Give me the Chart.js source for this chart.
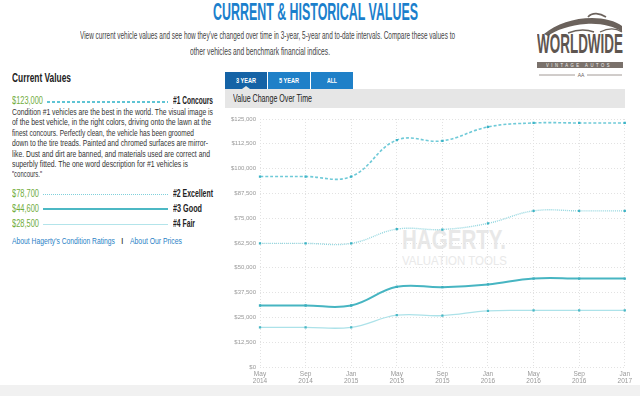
<!DOCTYPE html>
<html>
<head>
<meta charset="utf-8">
<script src="https://cdn.jsdelivr.net/npm/chart.js@4"></script>
<style>
  body { margin: 0; width: 640px; height: 396px; background: #fff; overflow: hidden; position: relative;
         font-family: "Liberation Sans", Arial, sans-serif; color: #333; }
  .abs { position: absolute; white-space: nowrap; }
  .fit { display: inline-block; transform-origin: 0 0; }
  #title { left: 213px; top: -2px; font-size: 24px; font-weight: bold; color: #1b7fcc; }
  .sub { font-size: 11px; color: #444; }
  #logoWord { left: 537px; top: 28px; font-size: 28px; font-weight: bold; color: #5e5550; }
  #logoBar { left: 537px; top: 62px; width: 86px; height: 6px; background: #7a716b; }
  #logoBarText { left: 546px; top: 62px; font-size: 5px; line-height: 6px; color: #f2f2f2; }
  #cvTitle { left: 12px; top: 71px; font-size: 12px; font-weight: bold; color: #222; }
  .price { font-size: 10px; color: #72ad3c; }
  .cond { font-size: 10px; font-weight: bold; color: #222; }
  .para { left: 12px; font-size: 9px; color: #333; }
  .link { font-size: 9px; color: #2a7fc6; }
  .tab { top: 72px; height: 17px; width: 42px; }
  .tabText { top: 76px; font-size: 8px; font-weight: bold; color: #fff; }
  #hdr { left: 225px; top: 89px; width: 400px; height: 19px; background: #e6e6e6; }
  #hdrText { left: 233px; top: 93px; font-size: 10px; color: #222; }
  #wm1 { left: 402px; top: 224px; font-size: 28px; font-weight: bold; color: #e8e8e8; }
  #wm2 { left: 402px; top: 253px; font-size: 13px; color: #e9e9e9; }
  #bottom { left: 0; top: 385px; width: 640px; height: 11px; background: #f1f1f1; }
  #chartBox { left: 225px; top: 108px; width: 410px; height: 282px; }
</style>
</head>
<body>
<div class="abs" id="title"><span class="fit" data-w="205">CURRENT &amp; HISTORICAL VALUES</span></div>
<div class="abs sub" style="left:80px; top:29px;"><span class="fit" data-w="375">View current vehicle values and see how they've changed over time in 3-year, 5-year and to-date intervals. Compare these values to</span></div>
<div class="abs sub" style="left:190px; top:45px;"><span class="fit" data-w="140">other vehicles and benchmark financial indices.</span></div>

<svg class="abs" style="left:530px; top:8px;" width="110" height="75" viewBox="0 0 110 75">
  <path d="M14 26 C 26 16, 44 10, 62 10 C 74 10, 86 13, 92 18 L 92 24 C 84 18, 70 15, 56 16 C 40 17, 26 22, 18 28 Z" fill="#6b625c"/>
  <path d="M58 9 C 62 4, 70 5, 76 9" stroke="#6b625c" stroke-width="1.6" fill="none"/>
  <path d="M38 25 C 48 21, 56 21, 64 24" stroke="#6b625c" stroke-width="1.4" fill="none"/>
  <path d="M70 24 C 78 20, 86 20, 92 24" stroke="#6b625c" stroke-width="1.2" fill="none"/>
  <line x1="9" y1="67" x2="45" y2="67" stroke="#8a817b" stroke-width="0.8"/>
  <line x1="57" y1="67" x2="92" y2="67" stroke="#8a817b" stroke-width="0.8"/>
  <text x="51" y="69" font-size="5" fill="#6b625c" text-anchor="middle" font-family="Liberation Sans">AA</text>
</svg>
<div class="abs" id="logoWord"><span class="fit" data-w="86">WORLDWIDE</span></div>
<div class="abs" id="logoBar"></div>
<div class="abs" id="logoBarText"><span class="fit" data-w="66" style="letter-spacing:3px">VINTAGE AUTOS</span></div>

<div class="abs" id="cvTitle"><span class="fit" data-w="59">Current Values</span></div>

<div class="abs price" style="left:12px; top:95px;"><span class="fit" data-w="31">$123,000</span></div>
<div class="abs" style="left:47px; top:101px; width:121px; height:1.5px; background:repeating-linear-gradient(to right, #5fc4d4 0 3px, transparent 3px 5px);"></div>
<div class="abs cond" style="left:173px; top:95px;"><span class="fit" data-w="40">#1 Concours</span></div>

<div class="abs para" style="top:107px;"><span class="fit" data-w="201">Condition #1 vehicles are the best in the world. The visual image is</span></div>
<div class="abs para" style="top:117.4px;"><span class="fit" data-w="199">of the best vehicle, in the right colors, driving onto the lawn at the</span></div>
<div class="abs para" style="top:127.8px;"><span class="fit" data-w="182">finest concours. Perfectly clean, the vehicle has been groomed</span></div>
<div class="abs para" style="top:138.2px;"><span class="fit" data-w="196">down to the tire treads. Painted and chromed surfaces are mirror-</span></div>
<div class="abs para" style="top:148.6px;"><span class="fit" data-w="198">like. Dust and dirt are banned, and materials used are correct and</span></div>
<div class="abs para" style="top:159px;"><span class="fit" data-w="176">superbly fitted. The one word description for #1 vehicles is</span></div>
<div class="abs para" style="top:169.4px;"><span class="fit" data-w="30">"concours."</span></div>

<div class="abs price" style="left:12px; top:188px;"><span class="fit" data-w="27">$78,700</span></div>
<div class="abs" style="left:43px; top:194px; width:125px; height:1px; background:repeating-linear-gradient(to right, #7fd0db 0 1px, transparent 1px 2px);"></div>
<div class="abs cond" style="left:173px; top:188px;"><span class="fit" data-w="40">#2 Excellent</span></div>

<div class="abs price" style="left:12px; top:203px;"><span class="fit" data-w="27">$44,600</span></div>
<div class="abs" style="left:43px; top:208px; width:125px; height:2px; background:#4cb8c4;"></div>
<div class="abs cond" style="left:173px; top:203px;"><span class="fit" data-w="29">#3 Good</span></div>

<div class="abs price" style="left:12px; top:218px;"><span class="fit" data-w="27">$28,500</span></div>
<div class="abs" style="left:43px; top:224px; width:125px; height:1px; background:#b3e4ea;"></div>
<div class="abs cond" style="left:173px; top:218px;"><span class="fit" data-w="22">#4 Fair</span></div>

<div class="abs link" style="left:12px; top:236px;"><span class="fit" data-w="103">About Hagerty's Condition Ratings</span></div>
<div class="abs" style="left:121px; top:236px; font-size:9px; color:#333;">I</div>
<div class="abs link" style="left:130px; top:236px;"><span class="fit" data-w="52">About Our Prices</span></div>

<div class="abs tab" style="left:225px; background:#1563a6;"></div>
<div class="abs tab" style="left:268px; background:#1f80c8;"></div>
<div class="abs tab" style="left:311px; background:#1f80c8;"></div>
<div class="abs tabText" style="left:236px;"><span class="fit" data-w="20">3 YEAR</span></div>
<div class="abs tabText" style="left:279px;"><span class="fit" data-w="20">5 YEAR</span></div>
<div class="abs tabText" style="left:327px;"><span class="fit" data-w="10">ALL</span></div>
<div class="abs" id="hdr"></div>
<div class="abs" style="left:242px; top:86px; width:0; height:0; border-left:4px solid transparent; border-right:4px solid transparent; border-bottom:3px solid #e6e6e6;"></div>
<div class="abs" id="hdrText"><span class="fit" data-w="79">Value Change Over Time</span></div>

<div class="abs" id="wm1"><span class="fit" data-w="104">HAGERTY.</span></div>
<div class="abs" id="wm2"><span class="fit" data-w="105">VALUATION TOOLS</span></div>

<div class="abs" id="chartBox"><canvas id="chart" width="410" height="282"></canvas></div>
<div class="abs" id="bottom"></div>

<script>
// ==================== Chart data ====================

const dateLabels = [['May', '2014'], ['Sep', '2014'], ['Jan', '2015'], ['May', '2015'], ['Sep', '2015'],
                    ['Jan', '2016'], ['May', '2016'], ['Sep', '2016'], ['Jan', '2017']];

const concoursValues  = [96000, 96000, 96000, 114400, 114000, 121000, 123000, 123000, 123000];
const excellentValues = [62300, 62300, 62300, 69500, 69300, 72400, 78700, 78700, 78700];
const goodValues      = [31000, 31000, 31000, 40400, 40200, 41600, 44600, 44600, 44600];
const fairValues      = [20000, 20000, 20000, 26100, 25900, 28300, 28500, 28500, 28500];

const yMin = 0;
const yMax = 125000;
const yStep = 12500;

// ==================== Text fitting ====================

/**
 * 좁은 글꼴 흉내 - 텍스트를 목표 폭에 맞게 가로로 줄이기
 */
function fitTexts() {
    document.querySelectorAll('.fit').forEach(el => {
        const target = parseFloat(el.dataset.w);
        const w = el.getBoundingClientRect().width;
        if (w > 0) {
            el.style.transform = `scaleX(${target / w})`;
        }
    });
}
fitTexts();

// ==================== Chart ====================

/**
 * 시리즈 하나 만들기 (선 색과 점 색이 다름)
 */
function makeSeries(label, values, lineColor, pointColor, width, dash) {
    return {
        label: label,
        data: values,
        borderColor: lineColor,
        backgroundColor: pointColor,
        pointBackgroundColor: pointColor,
        borderWidth: width,
        borderDash: dash,
        pointRadius: 1.6,
        pointStyle: 'rect',
        pointBorderWidth: 0,
        tension: 0.4,
        fill: false
    };
}

const ctx = document.getElementById('chart');
new Chart(ctx, {
    type: 'line',
    data: {
        labels: dateLabels,
        datasets: [
            makeSeries('#1 Concours', concoursValues, '#6fcad8', '#3bb3c6', 1.6, [3, 2]),
            makeSeries('#2 Excellent', excellentValues, '#92d6df', '#3cb3c4', 1.4, [1, 1]),
            makeSeries('#3 Good', goodValues, '#47b5c2', '#3aaebd', 2, []),
            makeSeries('#4 Fair', fairValues, '#ace2e9', '#49b8c6', 1.3, [])
        ]
    },
    options: {
        responsive: false,
        animation: false,
        layout: { padding: { top: 11, right: 10, left: 0, bottom: 0 } },
        plugins: { legend: { display: false }, tooltip: { enabled: false } },
        scales: {
            x: {
                grid: { color: '#e2e2e2', lineWidth: 1, drawTicks: false },
                border: { display: false, dash: [1, 2] },
                ticks: { color: '#999', font: { size: 6.5 }, padding: 3, maxRotation: 0, autoSkip: false },
                afterFit: axis => { axis.height = 23; }
            },
            y: {
                min: yMin,
                max: yMax,
                grid: { color: '#e2e2e2', lineWidth: 1, drawTicks: false },
                border: { display: false, dash: [1, 2] },
                ticks: {
                    stepSize: yStep,
                    color: '#999',
                    padding: 4,
                    font: { size: 6 },
                    callback: v => '$' + v.toLocaleString('en-US')
                },
                afterFit: axis => { axis.width = 35; }
            }
        }
    }
});
</script>
</body>
</html>
